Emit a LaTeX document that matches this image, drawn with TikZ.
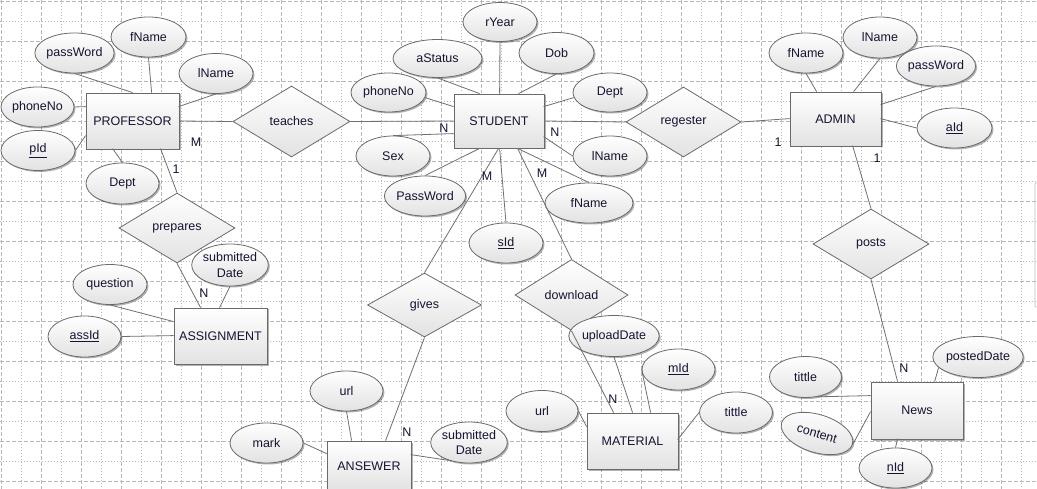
\documentclass[tikz,border=0pt]{standalone}
\usepackage{fontspec}
\setmainfont{Liberation Sans}
\usetikzlibrary{shapes.geometric,shadows,calc}
\definecolor{edge}{HTML}{6A6A6A}
\definecolor{linec}{HTML}{707070}
\definecolor{fillg}{HTML}{E2E2E2}
\definecolor{txt}{HTML}{141432}
\definecolor{gridc}{HTML}{B8B8B8}
\begin{document}
\begin{tikzpicture}[x=1pt,y=-1pt,
  font=\fontsize{12.5}{15.5}\selectfont,
  shadowed/.style={drop shadow={shadow xshift=1.5pt,shadow yshift=-1.5pt,opacity=0.3,fill=black}},
  entity/.style={rectangle, draw=edge, line width=0.8pt, top color=white, bottom color=fillg, inner sep=0pt, text=txt, shadowed},
  attr/.style={ellipse, draw=edge, line width=0.8pt, top color=white, bottom color=fillg, inner sep=0pt, minimum width=74pt, minimum height=40pt, text=txt, align=center, shadowed},
  rel/.style={diamond, draw=edge, line width=0.8pt, top color=white, bottom color=fillg, inner sep=0pt, minimum width=116pt, minimum height=70pt, text=txt},
  conn/.style={draw=linec, line width=0.8pt},
  card/.style={inner sep=0pt, text=txt}]
\useasboundingbox (0,0) rectangle (1037,489);
\clip (0,0) rectangle (1037,489);
\fill[white] (0,0) rectangle (1037,489);
% grid
\foreach \g in {21,61,...,1037} {
  \draw[gridc, line width=0.7pt, dash pattern=on 1pt off 2pt] (\g,0) -- (\g,489);
}
\foreach \g in {21,61,...,489} {
  \draw[gridc, line width=0.7pt, dash pattern=on 1pt off 2pt] (0,\g) -- (1037,\g);
}
\foreach \g in {1,41,...,1037} {
  \draw[gridc, line width=0.7pt, dash pattern=on 4pt off 2pt] (\g,0) -- (\g,489);
}
\foreach \g in {1,41,...,489} {
  \draw[gridc, line width=0.7pt, dash pattern=on 4pt off 2pt] (0,\g) -- (1037,\g);
}
\draw[gray!50, line width=0.6pt, rounded corners=1pt] (1040,183) -- (1035,183) -- (1035,307) -- (1040,307);

% entities
\node[entity, minimum width=93pt, minimum height=56pt] (PROF) at (132.5,121) {PROFESSOR};
\node[entity, minimum width=90pt, minimum height=54pt] (STU) at (499,121) {STUDENT};
\node[entity, minimum width=91pt, minimum height=54pt] (ADM) at (835.5,119) {ADMIN};
\node[entity, minimum width=93pt, minimum height=56pt] (ASG) at (220.5,336) {ASSIGNMENT};
\node[entity, minimum width=84pt, minimum height=50pt] (ANS) at (369,466) {ANSEWER};
\node[entity, minimum width=91pt, minimum height=56pt] (MAT) at (632.5,441) {MATERIAL};
\node[entity, minimum width=92pt, minimum height=57pt] (NEWS) at (917,410.5) {News};

% relationships
\node[rel, minimum width=117pt, minimum height=71pt] (Dteach) at (291.5,121.5) {teaches};
\node[rel, minimum width=115pt] (Dreg) at (683.5,122) {regester};
\node[rel] (Dprep) at (177,228) {prepares};
\node[rel, minimum width=114pt, minimum height=64pt] (Dgive) at (424.5,305) {gives};
\node[rel, minimum width=113pt, minimum height=71pt] (Ddown) at (571.5,295) {download};
\node[rel] (Dpost) at (871,244) {posts};

% professor attributes
\node[attr, minimum width=75pt] (PpassWord) at (74.5,53) {passWord};
\node[attr, minimum width=75pt] (PfName) at (148.5,37) {fName};
\node[attr] (PlName) at (216,73.5) {lName};
\node[attr, minimum width=73pt] (PphoneNo) at (37.5,107) {phoneNo};
\node[attr] (PpId) at (38,150.5) {\underline{pId}};
\node[attr, minimum width=73pt, minimum height=41pt] (PDept) at (122.5,183.5) {Dept};

% student attributes
\node[attr, minimum height=39pt] (SrYear) at (500,22) {rYear};
\node[attr, minimum width=89pt, minimum height=38pt] (SaStatus) at (437.5,58.5) {aStatus};
\node[attr, minimum width=75pt, minimum height=41pt] (SDob) at (556.5,53) {Dob};
\node[attr, minimum width=75pt, minimum height=39pt] (SphoneNo) at (388.5,92.5) {phoneNo};
\node[attr, minimum height=39pt] (SDept) at (610,92.5) {Dept};
\node[attr] (SSex) at (393,156) {Sex};
\node[attr] (SlName) at (610,156) {lName};
\node[attr, minimum width=75pt] (SPassWord) at (425,196) {PassWord};
\node[attr, minimum width=88pt] (SfName) at (589,203) {fName};
\node[attr] (SsId) at (506,243) {\underline{sId}};

% admin attributes
\node[attr] (AfName) at (806,53) {fName};
\node[attr, minimum height=41pt] (AlName) at (880,37.5) {lName};
\node[attr] (ApassWord) at (936,66) {passWord};
\node[attr, minimum width=75pt] (AaId) at (954.5,128) {\underline{aId}};

% assignment attributes
\node[attr] (Gquestion) at (110,284.5) {question};
\node[attr, minimum width=73pt, minimum height=41pt] (GassId) at (84.5,336.5) {\underline{assId}};
\node[attr, minimum height=42pt] (Gdate) at (230,265) {submitted\\Date};

% answer attributes
\node[attr, minimum width=73pt] (Nurl) at (346.5,391) {url};
\node[attr, minimum width=73pt] (Nmark) at (266.5,443) {mark};
\node[attr, minimum height=41pt] (Ndate) at (469,442.5) {submitted\\Date};

% material attributes
\node[attr, minimum width=73pt, minimum height=41pt] (MuploadDate) at (614,336) {uploadDate};
\node[attr, minimum width=73pt, minimum height=41pt] (MmId) at (678.5,369.5) {\underline{mId}};
\node[attr, minimum width=72pt, minimum height=41pt] (Murl) at (542,411) {url};
\node[attr, minimum width=73pt, minimum height=41pt] (Mtittle) at (736,412.5) {tittle};

% news attributes
\node[attr, minimum width=76pt, minimum height=41pt] (WpostedDate) at (978,357) {postedDate};
\node[attr, minimum width=72pt, minimum height=41pt] (Wtittle) at (805.5,377) {tittle};
\node[attr, minimum width=74pt, minimum height=38pt, rotate=-17] (Wcontent) at (817,433.5) {content};
\node[attr, minimum width=73pt] (WnId) at (895.5,468) {\underline{nId}};

% connectors: professor
\draw[conn] (PpassWord.south) -- ($(PROF.north west)+(47,0)$);
\draw[conn] (PfName.south) -- ($(PROF.north west)+(66,0)$);
\draw[conn] (PlName.south) -- ($(PROF.north west)+(93,14)$);
\draw[conn] (PphoneNo.east) -- ($(PROF.north west)+(0,14)$);
\draw[conn] (PpId.east) -- ($(PROF.north west)+(0,43)$);
\draw[conn] (PDept.north) -- ($(PROF.north west)+(27,56)$);
\draw[conn] (PROF.east) -- (Dteach.west);
\draw[conn] ($(PROF.north west)+(75,56)$) -- (Dprep.north);

% connectors: student
\draw[conn] (SrYear.south) -- ($(STU.north west)+(46,0)$);
\draw[conn] (SaStatus.south) -- ($(STU.north west)+(26,0)$);
\draw[conn] (SDob.south) -- ($(STU.north west)+(65,0)$);
\draw[conn] (SphoneNo.-8) -- ($(STU.north west)+(0,13)$);
\draw[conn] (SDept.188) -- ($(STU.north west)+(90,13)$);
\draw[conn] (Dteach.east) -- (STU.west);
\draw[conn] (STU.east) -- (Dreg.west);
\draw[conn] (SSex.north) -- ($(STU.north west)+(0,40)$);
\draw[conn] (SlName.west) -- ($(STU.north west)+(90,43)$);
\draw[conn] (SPassWord.north) -- ($(STU.south west)+(26,0)$);
\draw[conn] (SfName.north) -- ($(STU.south west)+(64,0)$);
\draw[conn] (SsId.north) -- ($(STU.south west)+(46,0)$);
\draw[conn] ($(STU.south west)+(45,0)$) -- (Dgive.north);
\draw[conn] ($(STU.south west)+(64,0)$) -- (Ddown.north);

% connectors: admin
\draw[conn] (AfName.south) -- ($(ADM.north west)+(27,0)$);
\draw[conn] (AlName.south) -- ($(ADM.north west)+(64,0)$);
\draw[conn] (ApassWord.south) -- ($(ADM.north west)+(91,13)$);
\draw[conn] (AaId.west) -- ($(ADM.north west)+(91,27)$);
\draw[conn] (Dreg.east) -- ($(ADM.north west)+(0,27)$);
\draw[conn] ($(ADM.north west)+(63,54)$) -- (Dpost.north);

% connectors: assignment
\draw[conn] (Dprep.south) -- ($(ASG.north west)+(27,0)$);
\draw[conn] (Gdate.south) -- ($(ASG.north west)+(46,0)$);
\draw[conn] (Gquestion.south) -- ($(ASG.north west)+(0,14)$);
\draw[conn] (GassId.east) -- ($(ASG.north west)+(0,28)$);

% connectors: answer
\draw[conn] (Nurl.south) -- ($(ANS.north west)+(25,0)$);
\draw[conn] (Nmark.east) -- ($(ANS.north west)+(0,13)$);
\draw[conn] (Ndate.222) -- ($(ANS.north west)+(84,14)$);
\draw[conn] (Dgive.south) -- ($(ANS.north west)+(59,0)$);

% connectors: material
\draw[conn] (Ddown.south) -- ($(MAT.north west)+(27,0)$);
\draw[conn] (MuploadDate.south) -- ($(MAT.north west)+(46,0)$);
\draw[conn] (MmId.west) -- ($(MAT.north west)+(64,0)$);
\draw[conn] (Murl.east) -- ($(MAT.north west)+(0,14)$);
\draw[conn] (Mtittle.west) -- ($(MAT.north west)+(91,27)$);

% connectors: news
\draw[conn] (Dpost.south) -- ($(NEWS.north west)+(27,0)$);
\draw[conn] (WpostedDate.195) -- ($(NEWS.north west)+(64,0)$);
\draw[conn] (Wtittle.-60) -- ($(NEWS.north west)+(0,14)$);
\draw[conn] (Wcontent.east) -- ($(NEWS.north west)+(0,30)$);
\draw[conn] (WnId.north) -- ($(NEWS.north west)+(27,57)$);

% cardinalities
\node[card] (c1) at (196,142) {M};
\node[card] (c2) at (176,169) {1};
\node[card] (c3) at (444,128) {N};
\node[card] (c4) at (555,132) {N};
\node[card] (c5) at (487,176) {M};
\node[card] (c6) at (542,173) {M};
\node[card] (c7) at (778,142) {1};
\node[card] (c8) at (877,158) {1};
\node[card] (c9) at (204,293) {N};
\node[card] (c10) at (407,432) {N};
\node[card] (c11) at (613,399) {N};
\node[card] (c12) at (904,368) {N};
\end{tikzpicture}
\end{document}
